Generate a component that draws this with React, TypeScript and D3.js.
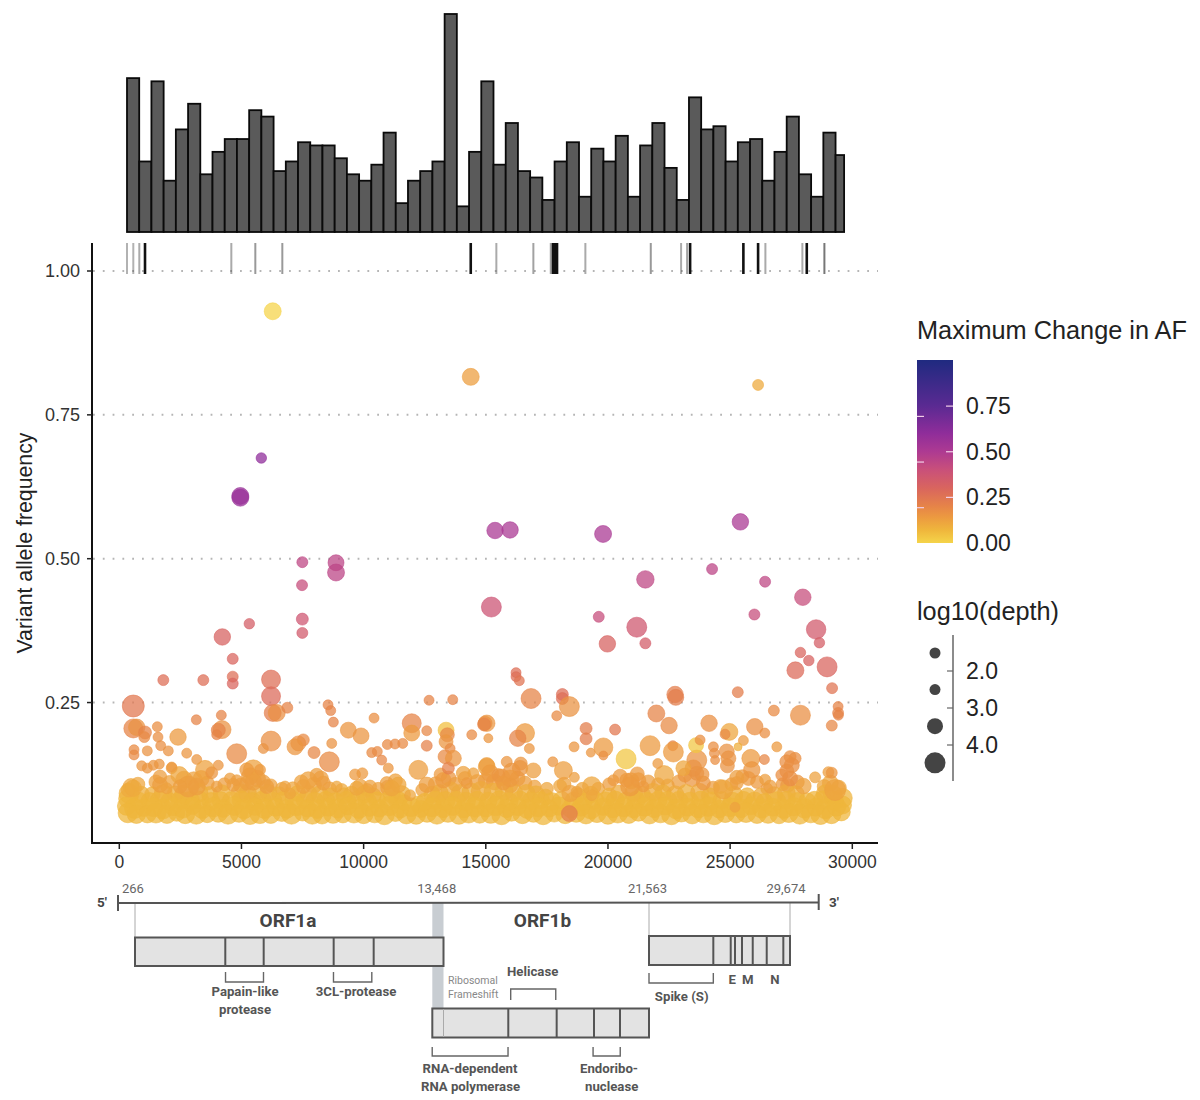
import React from "react";
import * as d3 from "d3";

// ---- coverage histogram (variants per 500 nt bin)
const binCounts = [48,22,47,16,32,40,18,25,29,29,38,36,19,22,28,27,27,23,18,16,21,31,9,16,19,22,68,8,25,47,21,34,19,17,10,22,28,11,26,22,30,11,27,34,20,10,42,32,33,22,28,29,16,25,36,18,11,31,24];

// ---- fixed variants (AF = 1) rug: [position, darkness]
const fixedSites: number[][] = [[315,.45],[573,.45],[819,.5],[1052,1],[4585,.5],[5567,.6],[6672,.6],[14384,1],[15432,.5],[16947,.55],[17659,.55],[17750,1],[17830,1],[17915,1],[19075,.5],[21752,.6],[22993,.5],[23240,.55],[23362,1],[25542,1],[26144,1],[26443,.5],[27957,.5],[28137,1],[28858,.8]];

// ---- variants: [position, allele frequency, max change in AF, log10 depth]
const bandLow: number[][] = [[350,.058,.07,3.7],[700,.056,.07,3.5],[1150,.056,.07,3.3],[1500,.058,.07,3.8],[1950,.056,.07,3.5],[2350,.058,.07,3.1],[2700,.056,.07,3.6],[3150,.056,.07,3.8],[3600,.056,.07,3.2],[4050,.058,.07,3.5],[4450,.056,.07,3.8],[4900,.057,.07,3.3],[5350,.055,.07,3.7],[5750,.057,.07,3.8],[6200,.056,.07,3.5],[6650,.059,.07,3.4],[7050,.056,.07,3.8],[7500,.058,.07,3],[7900,.056,.07,3.8],[8300,.055,.07,3.5],[8750,.057,.07,3.7],[9150,.056,.07,3.3],[9600,.058,.07,3.8],[10000,.056,.07,3.6],[10450,.057,.07,3.5],[10850,.055,.07,3.8],[11300,.058,.07,3.2],[11750,.056,.07,3.7],[12150,.055,.07,3.6],[12600,.058,.07,3.5],[13000,.056,.07,3.8],[13450,.057,.07,3.3],[13900,.055,.07,3.6],[14300,.058,.07,3.8],[14750,.056,.07,3.4],[15200,.057,.07,3.7],[15650,.055,.07,3.8],[16050,.059,.07,3.3],[16500,.056,.07,3.6],[16950,.058,.07,3.5],[17350,.055,.07,3.8],[17800,.057,.07,3.2],[18250,.056,.07,3.6],[18700,.058,.07,3.5],[19100,.056,.07,3.7],[19550,.057,.07,3.4],[20000,.055,.07,3.6],[20400,.058,.07,3.8],[20850,.056,.07,3.5],[21250,.059,.07,3.3],[21700,.056,.07,3.7],[22150,.057,.07,3.5],[22600,.055,.07,3.8],[23000,.058,.07,3.4],[23450,.056,.07,3.7],[23900,.057,.07,3.5],[24350,.055,.07,3.8],[24800,.058,.07,3.6],[25250,.056,.07,3.3],[25650,.059,.07,3.8],[26100,.056,.07,3.5],[26550,.057,.07,3.7],[27000,.055,.07,3.4],[27400,.058,.07,3.6],[27850,.056,.07,3.8],[28300,.057,.07,3.5],[28700,.055,.07,3.7],[29150,.056,.07,3.6],[29550,.06,.07,3.4]];
const bandMidA: number[][] = [[300,.07,.07,3.5],[620,.066,.07,3.8],[1000,.067,.07,3.3],[1400,.068,.07,3.6],[1780,.065,.07,3.8],[2200,.069,.07,3.4],[2600,.066,.07,3.7],[3000,.07,.07,3.2],[3400,.065,.07,3.6],[3850,.068,.07,3.7],[4250,.066,.07,3.4],[4700,.07,.07,3.6],[5100,.065,.07,3.7],[5550,.069,.07,3.3],[5950,.066,.07,3.8],[6400,.068,.07,3.4],[6850,.065,.07,3.5],[7250,.07,.07,3.7],[7700,.066,.07,3.3],[8100,.065,.07,3.6],[8550,.068,.07,3.4],[8950,.066,.07,3.7],[9350,.07,.07,3.4],[9800,.065,.07,3.6],[10250,.068,.07,3.5],[10650,.066,.07,3.3],[11050,.07,.07,3.7],[11500,.065,.07,3.4],[11950,.068,.07,3.6],[12350,.065,.07,3.2],[12800,.068,.07,3.7],[13250,.066,.07,3.5],[13650,.07,.07,3.6],[14100,.065,.07,3.4],[14550,.068,.07,3.8],[15000,.066,.07,3.3],[15400,.07,.07,3.7],[15850,.066,.07,3.5],[16300,.069,.07,3.4],[16700,.065,.07,3.6],[17150,.068,.07,3.7],[17600,.066,.07,3.3],[18000,.07,.07,3.5],[18500,.066,.07,3.6],[18900,.068,.07,3.4],[19300,.065,.07,3.8],[19800,.069,.07,3.3],[20200,.066,.07,3.6],[20650,.068,.07,3.7],[21050,.065,.07,3.4],[21500,.069,.07,3.6],[21900,.066,.07,3.5],[22350,.07,.07,3.4],[22800,.065,.07,3.8],[23250,.068,.07,3.4],[23700,.066,.07,3.6],[24100,.069,.07,3.7],[24550,.065,.07,3.4],[25000,.068,.07,3.6],[25450,.066,.07,3.5],[25850,.07,.07,3.3],[26300,.066,.07,3.7],[26750,.068,.07,3.4],[27200,.065,.07,3.6],[27600,.069,.07,3.5],[28050,.066,.07,3.7],[28500,.068,.07,3.4],[28900,.065,.07,3.7],[29350,.069,.07,3.6],[29600,.072,.07,3.4]];
const bandMidB: number[][] = [[360,.083,.075,3.6],[800,.079,.075,3.3],[1250,.078,.075,3.4],[1650,.08,.075,3.5],[2050,.078,.075,3.3],[2500,.08,.075,3.5],[2900,.079,.075,3.6],[3300,.08,.075,3.4],[3750,.078,.075,3.4],[4150,.08,.075,3.3],[4600,.079,.075,3.6],[5000,.08,.075,3.5],[5450,.078,.075,3.4],[5850,.08,.075,3.5],[6300,.079,.075,3.3],[6750,.08,.075,3.5],[7150,.079,.075,3.4],[7600,.08,.075,3.3],[8000,.078,.075,3.5],[8450,.08,.075,3.4],[8850,.078,.075,3.3],[9300,.079,.075,3.6],[9700,.08,.075,3.4],[10150,.078,.075,3.5],[10550,.08,.075,3.2],[11000,.079,.075,3.4],[11400,.08,.075,3.4],[11650,.076,.075,3],[12250,.073,.075,3.2],[12500,.077,.075,3.3],[12950,.08,.075,3.5],[13350,.079,.075,3.6],[13800,.08,.075,3.4],[14200,.078,.075,3.5],[14650,.08,.075,3.4],[15100,.079,.075,3.3],[15550,.08,.075,3.6],[15950,.078,.075,3.4],[16400,.08,.075,3.5],[16850,.079,.075,3.4],[17250,.08,.075,3.3],[17700,.078,.075,3.4],[18100,.08,.075,3.4],[18600,.079,.075,3.4],[19000,.077,.075,3.3],[19450,.08,.075,3.5],[19900,.079,.075,3.4],[20300,.08,.075,3.5],[20750,.079,.075,3.4],[21150,.08,.075,3.4],[21600,.078,.075,3.5],[22050,.08,.075,3.4],[22450,.079,.075,3.6],[22900,.08,.075,3.4],[23350,.079,.075,3.3],[23800,.08,.075,3.5],[24250,.079,.075,3.4],[24650,.08,.075,3.3],[25100,.078,.075,3.5],[25550,.08,.075,3.4],[26000,.079,.075,3.4],[26400,.077,.075,3.2],[26900,.079,.075,3.5],[27300,.08,.075,3.4],[27750,.078,.075,3.4],[28150,.079,.075,3.1],[28450,.08,.075,3.4],[28800,.08,.075,3.6],[29250,.079,.075,3.6],[29600,.084,.075,3.7]];
const bandTop: number[][] = [[400,.092,.09,3.8],[900,.09,.09,3.1],[1350,.09,.09,2.9],[1800,.092,.1,3.4],[2300,.091,.09,3.1],[2650,.09,.1,3.6],[3250,.093,.09,3.5],[3700,.09,.09,3],[4200,.092,.09,3.3],[4950,.093,.1,3.5],[5250,.091,.1,3.4],[5650,.09,.09,3.5],[6100,.093,.1,3.2],[6550,.09,.09,2.9],[7300,.092,.09,3],[7750,.091,.1,3.2],[8200,.09,.09,3.3],[8650,.089,.09,2.8],[9200,.088,.09,3],[9500,.09,.09,3.1],[10050,.091,.09,3.3],[10400,.088,.1,2.9],[11150,.09,.1,3.2],[11550,.09,.09,3.4],[12800,.09,.09,3.1],[13100,.092,.1,3.4],[13550,.096,.1,3.6],[13950,.092,.1,3.4],[14400,.094,.09,3.5],[14800,.096,.1,3.7],[15300,.094,.09,3.5],[15750,.096,.09,3.4],[16150,.093,.1,3.3],[16650,.092,.09,3.4],[17050,.09,.09,3.3],[17450,.086,.09,2.9],[18800,.088,.09,2.8],[19300,.09,.09,3.1],[20050,.088,.09,2.9],[20450,.092,.1,3.2],[21050,.093,.1,3.4],[21400,.09,.09,3.1],[21850,.094,.1,3.4],[22250,.093,.09,3.1],[22750,.09,.1,3.3],[23200,.092,.09,3.4],[23750,.094,.1,3.4],[24150,.088,.09,3],[25150,.089,.09,3.4],[25700,.088,.08,3],[26250,.088,.1,2.9],[26800,.089,.09,3.2],[27300,.092,.1,3.4],[27700,.091,.09,3.1],[28900,.091,.09,3.5],[29200,.09,.09,3.6]];
const bandCrest: number[][] = [[480,.104,.11,3],[760,.108,.11,2.6],[1500,.112,.12,2.6],[2050,.112,.12,2.4],[2650,.116,.12,3.2],[3050,.114,.12,3.4],[3350,.118,.12,3],[3600,.11,.13,2.6],[4300,.108,.13,2.4],[4980,.106,.13,2.8],[5350,.122,.13,3.2],[5650,.118,.13,3.1],[5900,.112,.13,2.6],[6200,.106,.12,2.4],[6650,.1,.11,2.4],[7100,.1,.11,2.6],[7450,.112,.12,2.6],[7950,.106,.12,3],[8250,.118,.13,2.8],[8600,.1,.12,2.6],[9100,.098,.1,2.4],[9850,.104,.12,2.8],[10150,.098,.12,2.4],[10600,.1,.12,2.4],[11000,.102,.12,2.8],[11300,.114,.12,2.6],[12400,.098,.12,2.4],[12950,.108,.13,2.8],[13150,.125,.14,2.4],[13480,.118,.15,2.8],[13750,.108,.13,2.6],[14150,.118,.13,2.6],[14650,.112,.13,2.8],[15000,.114,.13,2.8],[15350,.112,.14,3],[15650,.12,.14,3.1],[16000,.106,.14,2.8],[16300,.118,.14,2.8],[16600,.11,.13,2.6],[17000,.104,.12,2.4],[17500,.1,.11,2.4],[18200,.108,.12,2.6],[18950,.1,.11,2.4],[19600,.1,.11,2.4],[20050,.108,.13,2.4],[20500,.122,.14,2.6],[20950,.114,.14,3],[21200,.126,.14,2.6],[21650,.112,.13,2.6],[22050,.108,.12,2.4],[22450,.106,.11,2.4],[22900,.112,.13,2.6],[23150,.124,.15,2.6],[23450,.118,.15,3.1],[23850,.125,.15,2.6],[24300,.102,.13,2.4],[24600,.104,.12,2.6],[25050,.108,.13,2.4],[25500,.122,.14,2.4],[25750,.118,.14,2.6],[26100,.112,.14,2.4],[26500,.1,.14,2.2],[27350,.106,.15,2.6],[27750,.112,.15,2.6],[27150,.108,.14,2.4],[28850,.104,.11,2.6],[29100,.11,.11,3],[29450,.102,.11,2.8]];
const bandAccents: number[][] = [[18420,.057,.22,3],[25200,.068,.12,1.8]];

const midVariants: number[][] = [[368,.098,.1,2.6],[573,.101,.1,3.1],[1666,.121,.13,2.5],[1666,.107,.13,2.8],[1940,.101,.12,2],[2145,.136,.14,2],[2456,.124,.11,3.2],[2824,.104,.13,4],[3168,.104,.13,3.2],[2485,.104,.13,2.5],[3987,.104,.13,2],[4531,.118,.13,2],[4666,.107,.13,2.4],[4805,.115,.13,2],[5485,.133,.12,3.8],[5215,.133,.14,2.6],[5760,.133,.14,2],[5215,.11,.13,2.6],[5485,.112,.13,3.1],[6034,.104,.13,2.6],[6783,.104,.12,2],[7532,.104,.12,2.6],[7736,.115,.12,3.2],[8080,.124,.13,2.5],[8350,.11,.13,2.6],[8899,.104,.11,2],[6987,.092,.11,2],[9648,.125,.14,2],[9947,.127,.14,2],[9717,.101,.11,2.6],[10262,.104,.12,2.4],[10946,.11,.13,2.4],[11420,.107,.11,2.9],[11150,.101,.11,2.9],[12583,.107,.13,2.9],[11899,.089,.11,2],[14081,.127,.12,2.6],[14490,.127,.12,2],[15039,.138,.12,3.2],[13262,.115,.14,2.9],[14220,.11,.14,2],[15857,.147,.15,2],[16431,.144,.15,2.4],[16402,.136,.15,2.9],[16062,.13,.15,3.2],[15993,.118,.14,3.2],[15039,.141,.13,2.9],[15174,.127,.14,3.2],[15514,.124,.15,2.4],[15718,.11,.14,2.6],[23635,.15,.16,3.8],[23496,.136,.16,3.1],[23087,.136,.11,2.8],[23635,.127,.16,2.6],[23905,.11,.15,2.6],[22296,.124,.11,3.6],[19337,.105,.11,3.5],[19337,.089,.11,2],[18040,.105,.11,2.4],[18449,.092,.12,3.1],[18722,.095,.12,2],[20221,.115,.14,2],[20769,.115,.14,2.6],[21244,.115,.14,2.8],[20905,.104,.14,3.6],[21449,.104,.14,2],[25272,.12,.13,2.6],[25272,.11,.13,2.4],[26431,.116,.13,2],[26636,.104,.13,2.4],[28478,.12,.12,2],[29022,.129,.13,2],[29160,.128,.15,2],[24724,.099,.11,3.6],[29297,.098,.12,4],[28000,.105,.12,2.9]];

const lowerVariants: number[][] = [[1801,.289,.27,2],[3438,.289,.27,2],[4642,.295,.27,2],[4642,.283,.3,2],[6210,.29,.27,3.6],[6210,.261,.28,3.6],[573,.244,.24,4.2],[6279,.232,.22,3.2],[6443,.232,.17,3.2],[6877,.241,.2,2],[8543,.246,.2,1.8],[8653,.236,.2,1.8],[8762,.216,.2,1.8],[12677,.254,.2,1.8],[13647,.255,.2,1.8],[4175,.228,.2,1.8],[3152,.22,.2,1.8],[573,.205,.2,3.6],[712,.207,.16,3.1],[1052,.198,.2,2.4],[1023,.19,.18,2],[1556,.208,.17,1.8],[1584,.19,.17,1.8],[1695,.175,.17,1.8],[2006,.166,.16,1.8],[1146,.166,.16,1.8],[602,.168,.18,1.8],[602,.159,.18,1.8],[2403,.19,.14,3.1],[2759,.162,.15,1.8],[3168,.151,.15,1.8],[4052,.141,.15,1.8],[3508,.133,.12,3.6],[3782,.128,.15,2.2],[2145,.138,.14,1.8],[917,.14,.15,1.8],[1146,.136,.15,1.8],[1392,.141,.15,1.8],[1637,.143,.15,1.8],[4204,.203,.16,3.4],[4052,.202,.2,2.6],[3987,.194,.2,1.8],[4805,.161,.18,3.8],[6210,.183,.17,3.8],[5895,.17,.16,1.8],[7532,.185,.18,2.2],[7327,.179,.17,2.8],[7192,.173,.15,3],[7970,.163,.19,2.2],[8694,.179,.16,1.8],[8596,.147,.18,3.8],[9374,.202,.15,3],[9894,.192,.15,3],[10426,.223,.17,1.8],[11969,.214,.2,3.6],[11969,.197,.14,3],[12583,.201,.19,1.8],[12583,.175,.21,2],[10970,.177,.18,1.8],[11285,.178,.18,1.8],[11600,.179,.18,1.8],[10331,.163,.18,1.8],[10560,.165,.18,1.8],[10740,.15,.19,1.8],[11010,.136,.15,1.8],[12240,.133,.13,3.6],[14425,.194,.18,1.8],[14970,.214,.19,2.6],[15104,.188,.15,1.6],[13373,.202,.05,3],[13426,.194,.19,2.6],[13373,.182,.15,2.6],[13540,.17,.18,1.8],[13332,.156,.18,2.6],[13672,.153,.15,3],[13467,.136,.21,2.2]];

const upperVariants: number[][] = [[16238,.302,.27,1.8],[16238,.295,.27,1.8],[16373,.288,.25,1.8],[16852,.257,.2,3.8],[18133,.264,.27,2.2],[18133,.257,.27,2.2],[18420,.243,.16,3.8],[17903,.227,.18,1.8],[22746,.264,.22,3.1],[22775,.259,.22,3],[25313,.268,.22,2],[26790,.236,.18,2],[27877,.228,.17,3.8],[29419,.243,.2,1.8],[29419,.232,.2,2],[29430,.228,.2,1.8],[21980,.231,.2,3.2],[22500,.21,.18,3.1],[24138,.214,.17,3.1],[26008,.208,.17,3.1],[26418,.197,.17,1.8],[24970,.199,.11,3.2],[24793,.195,.18,1.8],[25542,.184,.14,1.8],[26910,.173,.14,1.8],[29160,.21,.19,2],[20291,.203,.24,2],[19104,.205,.22,2.2],[19104,.187,.22,2.2],[15039,.214,.15,3.1],[14930,.212,.2,2.4],[16607,.197,.14,3.6],[16307,.188,.2,3.1],[16783,.17,.15,1.8],[18613,.173,.15,1.8],[19296,.163,.15,1.6],[19812,.172,.14,3.6],[19812,.158,.17,1.6],[20742,.152,.03,3.8],[21723,.175,.14,3.8],[22653,.175,.2,1.8],[22677,.164,.14,3.8],[22039,.144,.14,1.8],[23606,.176,.03,2.8],[23771,.185,.17,1.8],[24315,.173,.17,1.8],[24356,.162,.17,1.8],[24384,.15,.17,1.6],[24863,.165,.16,2.8],[24929,.153,.16,2.8],[24888,.14,.16,2.6],[25325,.173,.09,1.4],[25846,.153,.14,3.4],[26402,.151,.19,1.8],[25887,.133,.15,3.1],[27454,.156,.17,2.2],[27659,.153,.17,2.2],[27319,.147,.17,2.6],[27524,.141,.17,2.8],[27319,.131,.17,2.6],[27114,.124,.17,2.2],[27454,.118,.17,2.8],[17741,.147,.15,1.8],[18175,.132,.13,3.4],[18625,.12,.13,1.8],[16947,.132,.13,2.8]];

const highVariants: number[][] = [[6279,.93,0,3.2],[14384,.816,.13,3.2],[5813,.675,.6,1.9],[4953,.609,.57,3.2],[4953,.606,.57,3.2],[7491,.494,.44,2],[8870,.493,.45,3],[8870,.476,.45,3.2],[7479,.454,.41,2],[5321,.387,.33,1.9],[7491,.395,.37,2.2],[7491,.371,.35,2],[4216,.364,.31,3.1],[4642,.326,.3,2],[15379,.549,.51,3.1],[15993,.55,.51,3.1],[19800,.543,.51,3.2],[25420,.564,.51,3.1],[26144,.802,.1,2],[24261,.482,.45,2],[26431,.46,.44,2],[21531,.464,.44,3.3],[27974,.433,.41,3.1],[15228,.416,.38,3.8],[19623,.399,.41,2],[25993,.403,.41,2],[21179,.381,.36,3.8],[19976,.352,.31,3.1],[21531,.353,.34,2],[28519,.377,.35,3.7],[28654,.354,.33,1.9],[27877,.337,.3,1.9],[28220,.323,.31,1.9],[27671,.306,.28,3.2],[28968,.312,.3,3.8],[29173,.275,.25,2]];

// ---- colour bar / legends
const changeStops = [0,.07,.14,.2,.3,.4,.5,.6,.75,1];
const changeColors = ["#f5d44a","#efb63c","#ec9a40","#e68448","#d9655e","#c9507a","#ad3a92","#8f2d9a","#5a2a92","#1f2a80"];
const changeTicks = [0,.25,.5,.75];
const depthKeys = [2,2,3,4];
const depthTicks = [2,3,4];

const xTicks = [0,5000,10000,15000,20000,25000,30000];
const yTicks = [.25,.5,.75,1];

// ---- genome schematic (genome coordinates)
const landmarks = [266,13468,21563,29674];
const orf1aEdges = [266,4130,5773,8768,10480,13468];
const orf1bEdges = [12989,16020,17926,19396,20420,21563];
const structuralEdges = [21563,25263,26264,26511,26914,27530,28335,29290,29674];

const sansFont = "'Liberation Sans', Arial, sans-serif";
const diagFont = "Roboto, sans-serif";

export default function App() {
  const x = d3.scaleLinear().domain([0,30000]).range([119.3,852.3]);
  const y = d3.scaleLinear().domain([0,1]).range([846.4,271]);
  const r = d3.scaleLinear().domain([1,5]).range([3,13]);
  const color = d3.scaleLinear<string>().domain(changeStops).range(changeColors).interpolate(d3.interpolateRgb);
  const barY = d3.scaleLinear().domain([0,68]).range([232,14]);
  const legY = d3.scaleLinear().domain([0,1]).range([543,360.5]);
  // schematic is not to scale: piecewise genome → page mapping
  const g = d3.scaleLinear().domain([0,266,13468,21563,29674,29903]).range([118,135,443.5,649,790,818.7]);

  const binW = 500, binStart = 315, lastEnd = 29665;
  const bins = binCounts.map((c,i)=>{
    const a = binStart + i*binW;
    return {a, b: Math.min(a+binW,lastEnd), c};
  });

  const allPoints = [...bandCrest,...bandTop,...bandMidB,...bandMidA,...bandLow,...bandAccents,...midVariants,...lowerVariants,...upperVariants,...highVariants];
  const boxY1a = [937.5,966], boxY1b = [1008.5,1037.5], boxYs = [936,965];
  const box = (edges:number[],ys:number[],key:string)=>(
    <g key={key}>
      <rect x={g(edges[0])} y={ys[0]} width={g(edges[edges.length-1])-g(edges[0])} height={ys[1]-ys[0]} fill="#e3e3e3" stroke="#555" strokeWidth={2}/>
      {edges.slice(1,-1).map(e=><line key={e} x1={g(e)} x2={g(e)} y1={ys[0]} y2={ys[1]} stroke="#555" strokeWidth={2}/>)}
    </g>
  );
  const bracket = (a:number,b:number,y0:number,y1:number)=>(
    <path d={`M${g(a)},${y0}V${y1}H${g(b)}V${y0}`} fill="none" stroke="#666" strokeWidth={1.4}/>
  );
  const dText = (t:string,px:number,py:number,opt:any={})=>(
    <text key={t+px} x={px} y={py} textAnchor={opt.anchor||"middle"} dominantBaseline="central" fontFamily={diagFont} fontSize={opt.size||13.2} fontWeight={opt.weight||700} fill={opt.fill||"#555"}>{t}</text>
  );

  return (
    <svg width={1200} height={1100} style={{position:"absolute",left:0,top:0,background:"#fff"}}>
      <defs>
        <linearGradient id="cbar" x1="0" x2="0" y1="1" y2="0">
          {changeStops.map((s,i)=><stop key={s} offset={s} stopColor={changeColors[i]}/>)}
        </linearGradient>
      </defs>

      {/* histogram */}
      {bins.map((b,i)=>(
        <rect key={i} x={x(b.a)} y={barY(b.c)} width={x(b.b)-x(b.a)} height={barY(0)-barY(b.c)} fill="#5a5a5a" stroke="#0a0a0a" strokeWidth={1.8}/>
      ))}

      {/* grid */}
      {yTicks.map(t=>(
        <line key={t} x1={93} x2={878} y1={y(t)} y2={y(t)} stroke="#b5b5b5" strokeWidth={2} strokeDasharray="1.8 8"/>
      ))}

      {/* rug */}
      {fixedSites.map(([p,o],i)=>(
        <line key={i} x1={x(p)} x2={x(p)} y1={243} y2={y(1)+3} stroke={o===1?"#111":"#555"} strokeOpacity={o===1?1:o} strokeWidth={o===1?2.6:2}/>
      ))}

      {/* points */}
      {allPoints.map(([p,af,c,d],i)=>(
        <circle key={i} cx={x(p)} cy={y(af)} r={r(d)} fill={color(c)} fillOpacity={.74} stroke={color(c)} strokeOpacity={.55} strokeWidth={1}/>
      ))}

      {/* axes */}
      <line x1={92} x2={92} y1={243} y2={844} stroke="#111" strokeWidth={2}/>
      <line x1={91} x2={878} y1={843} y2={843} stroke="#111" strokeWidth={2}/>
      {yTicks.map(t=>(
        <g key={t}>
          <line x1={87} x2={92} y1={y(t)} y2={y(t)} stroke="#222" strokeWidth={1.5}/>
          <text x={80} y={y(t)} textAnchor="end" dominantBaseline="central" fontFamily={sansFont} fontSize={18} fill="#333">{t.toFixed(2)}</text>
        </g>
      ))}
      {xTicks.map(t=>(
        <g key={t}>
          <line x1={x(t)} x2={x(t)} y1={843} y2={849} stroke="#222" strokeWidth={1.5}/>
          <text x={x(t)} y={862} textAnchor="middle" dominantBaseline="central" fontFamily={sansFont} fontSize={17.5} fill="#333">{t}</text>
        </g>
      ))}
      <text transform="translate(25,543) rotate(-90)" textAnchor="middle" dominantBaseline="central" fontFamily={sansFont} fontSize={21.3} fill="#222">Variant allele frequency</text>

      {/* colour legend */}
      <text x={917} y={339} fontFamily={sansFont} fontSize={25.3} fill="#222">Maximum Change in AF</text>
      <rect x={917} y={360} width={36} height={183} fill="url(#cbar)"/>
      {changeTicks.map(t=>(
        <g key={t}>
          {t>0 && <line x1={946} x2={953} y1={legY(t)} y2={legY(t)} stroke="#f2cfe8" strokeWidth={1.2}/>}
          {t>0 && <line x1={917} x2={924} y1={legY(t)+10.3} y2={legY(t)+10.3} stroke="#f2cfe8" strokeWidth={1.2}/>}
          <text x={966} y={legY(t)} dominantBaseline="central" fontFamily={sansFont} fontSize={23} fill="#222">{t.toFixed(2)}</text>
        </g>
      ))}

      {/* size legend */}
      <text x={917} y={620} fontFamily={sansFont} fontSize={25.3} fill="#222">log10(depth)</text>
      <line x1={953} x2={953} y1={635} y2={781} stroke="#666" strokeWidth={1.5}/>
      {depthKeys.map((d,i)=>(
        <circle key={i} cx={935} cy={653+i*36.6} r={r(d)} fill="#444"/>
      ))}
      {depthTicks.map((d,i)=>(
        <g key={d}>
          <line x1={947} x2={953} y1={671+i*37} y2={671+i*37} stroke="#666" strokeWidth={1.2}/>
          <text x={966} y={671+i*37} dominantBaseline="central" fontFamily={sansFont} fontSize={23} fill="#222">{d.toFixed(1)}</text>
        </g>
      ))}

      {/* genome schematic */}
      <rect x={g(12989)} y={903} width={g(13468)-g(12989)} height={106} fill="#c8cdd2"/>
      {[landmarks[0],landmarks[2],landmarks[3]].map(l=>(
        <line key={l} x1={g(l)} x2={g(l)} y1={903} y2={937} stroke="#aaa" strokeWidth={1}/>
      ))}
      <line x1={118} x2={818.7} y1={903} y2={902.5} stroke="#555" strokeWidth={2}/>
      <line x1={118} x2={118} y1={895} y2={911} stroke="#555" strokeWidth={2}/>
      <line x1={818.7} x2={818.7} y1={894} y2={910} stroke="#555" strokeWidth={2}/>
      {dText("5'",102,901.5,{size:13.5,fill:"#444"})}
      {dText("3'",834,901.5,{size:13.5,fill:"#444"})}
      {dText("266",122,888,{anchor:"start",size:13,weight:400,fill:"#666"})}
      {dText("13,468",436.7,888,{size:13,weight:400,fill:"#666"})}
      {dText("21,563",647.5,888,{size:13,weight:400,fill:"#666"})}
      {dText("29,674",786,888,{size:13,weight:400,fill:"#666"})}
      {dText("ORF1a",288,920.5,{size:19,fill:"#444"})}
      {dText("ORF1b",542.5,920.5,{size:19,fill:"#444"})}
      {box(orf1aEdges,boxY1a,"a")}
      {box(orf1bEdges,boxY1b,"b")}
      <line x1={g(13468)} x2={g(13468)} y1={1009} y2={1037} stroke="#aaa" strokeWidth={1}/>
      {box(structuralEdges,boxYs,"s")}
      {bracket(4140,5765,972,982)}
      {bracket(8760,10400,972,982)}
      {bracket(21563,25263,973,983)}
      {bracket(12985,16010,1047,1056)}
      {bracket(19360,20430,1047,1056)}
      {bracket(16115,17890,1000,989)}
      {dText("Papain-like",245,991.5)}
      {dText("protease",245,1009.5)}
      {dText("3CL-protease",356,991.5)}
      {dText("Ribosomal",448,980.7,{anchor:"start",size:10.5,weight:400,fill:"#888"})}
      {dText("Frameshift",448,994.7,{anchor:"start",size:10.5,weight:400,fill:"#888"})}
      {dText("Helicase",532.7,971.5)}
      {dText("RNA-dependent",470,1068.3)}
      {dText("RNA polymerase",470.5,1086)}
      {dText("Endoribo-",609,1068.3)}
      {dText("nuclease",611.7,1086)}
      {dText("Spike (S)",681.7,996)}
      {dText("E",732.3,979.3)}
      {dText("M",747.7,979.3)}
      {dText("N",775,979.3)}
    </svg>
  );
}
